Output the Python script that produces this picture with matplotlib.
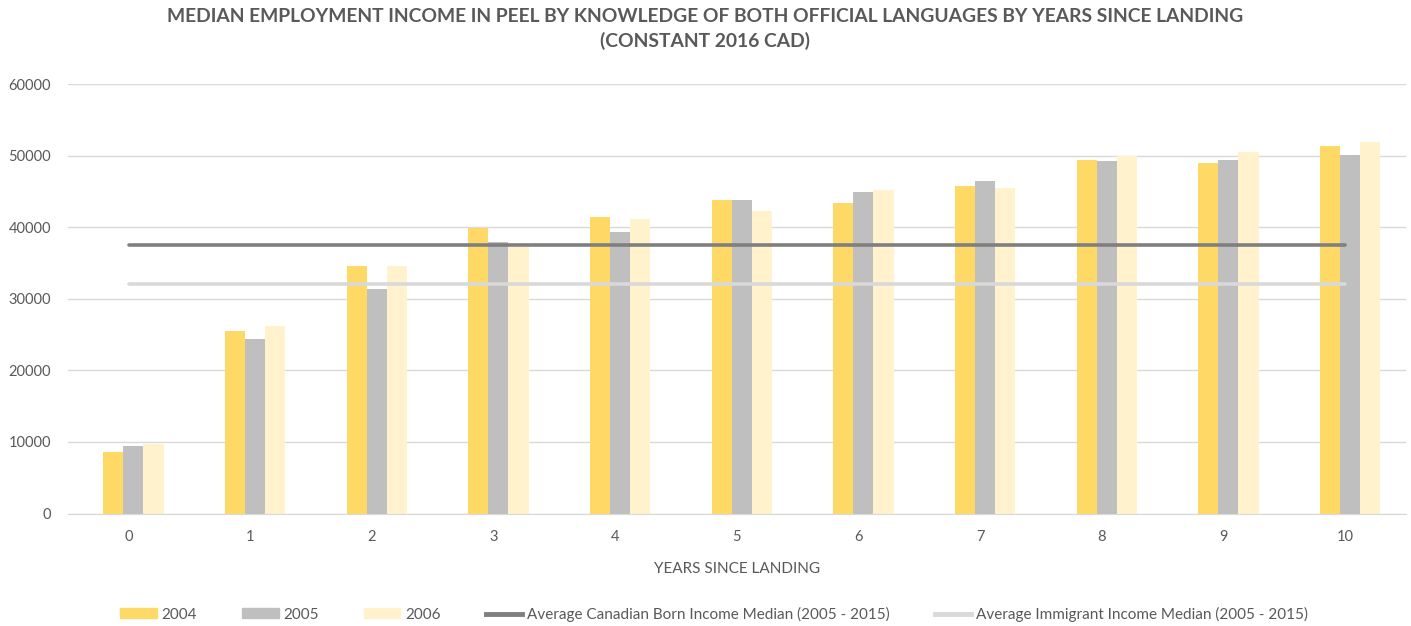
import numpy as np
import matplotlib
matplotlib.use('Agg')
from matplotlib import pyplot as plt
from matplotlib.lines import Line2D
from matplotlib.patches import Patch

# data
years = [0, 1, 2, 3, 4, 5, 6, 7, 8, 9, 10]
inc_2004 = [8610, 25440, 34520, 39830, 41410, 43830, 43320, 45700, 49420, 48910, 51330]
inc_2005 = [9400, 24360, 31300, 37960, 39310, 43830, 44900, 46490, 49190, 49420, 50070]
inc_2006 = [9690, 26220, 34520, 37260, 41130, 42250, 45180, 45460, 49980, 50500, 51850]
canadian_avg = 37450
immigrant_avg = 32090

series_names = ['2004', '2005', '2006']
line_names = ['Average Canadian Born Income Median (2005 - 2015)',
              'Average Immigrant Income Median (2005 - 2015)']

text_col = '#595959'
bar_cols = ['#FFD966', '#BFBFBF', '#FFF2CC']
line_cols = ['#7F7F7F', '#D9D9D9']

plt.rcParams['font.family'] = ['Lato', 'DejaVu Sans']

fig = plt.figure(figsize=(14.11, 6.26), dpi=100)
ax = fig.add_axes([0.048, 0.1797, 0.9485, 0.6861])

x = np.arange(len(years))
w = 0.165
for i, vals in enumerate([inc_2004, inc_2005, inc_2006]):
    ax.bar(x + (i - 1) * w + 0.04, vals, width=w, color=bar_cols[i], zorder=2)

ax.hlines(canadian_avg, x[0], x[-1], color=line_cols[0], linewidth=2.6, zorder=3, capstyle='round')
ax.hlines(immigrant_avg, x[0], x[-1], color=line_cols[1], linewidth=2.6, zorder=3, capstyle='round')

ax.set_xlim(-0.5, len(years) - 0.5)
ax.set_ylim(0, 60000)
ax.set_yticks(range(0, 60001, 10000))
ax.set_xticks(x)
ax.set_xticklabels([str(v) for v in years])
ax.grid(axis='y', color='#D9D9D9', linewidth=1, zorder=0)
for s in ['top', 'right', 'left']:
    ax.spines[s].set_visible(False)
ax.spines['bottom'].set_color('#D9D9D9')
ax.tick_params(axis='both', length=0, colors=text_col, labelsize=10.5)
ax.tick_params(axis='x', pad=12)
ax.tick_params(axis='y', pad=12)

ax.set_xlabel('YEARS SINCE LANDING', color=text_col, fontsize=11, labelpad=13)

fig.text(0.5, 0.987, 'MEDIAN EMPLOYMENT INCOME IN PEEL BY KNOWLEDGE OF BOTH OFFICIAL LANGUAGES BY YEARS SINCE LANDING\n(CONSTANT 2016 CAD)',
         ha='center', va='top', fontsize=13.9, fontweight='bold', color=text_col, linespacing=1.45)

handles = [Patch(color=c) for c in bar_cols] + \
          [Line2D([0], [0], color=c, linewidth=3.5) for c in line_cols]
labels = series_names + line_names
fig.legend(handles, labels, loc='center', bbox_to_anchor=(0.506, 0.019), ncol=5, frameon=False,
           fontsize=11, labelcolor=text_col, handlelength=2.4, handleheight=0.6, handletextpad=0.3,
           columnspacing=2.95, borderaxespad=0)

fig.savefig('out.png', dpi=100)
